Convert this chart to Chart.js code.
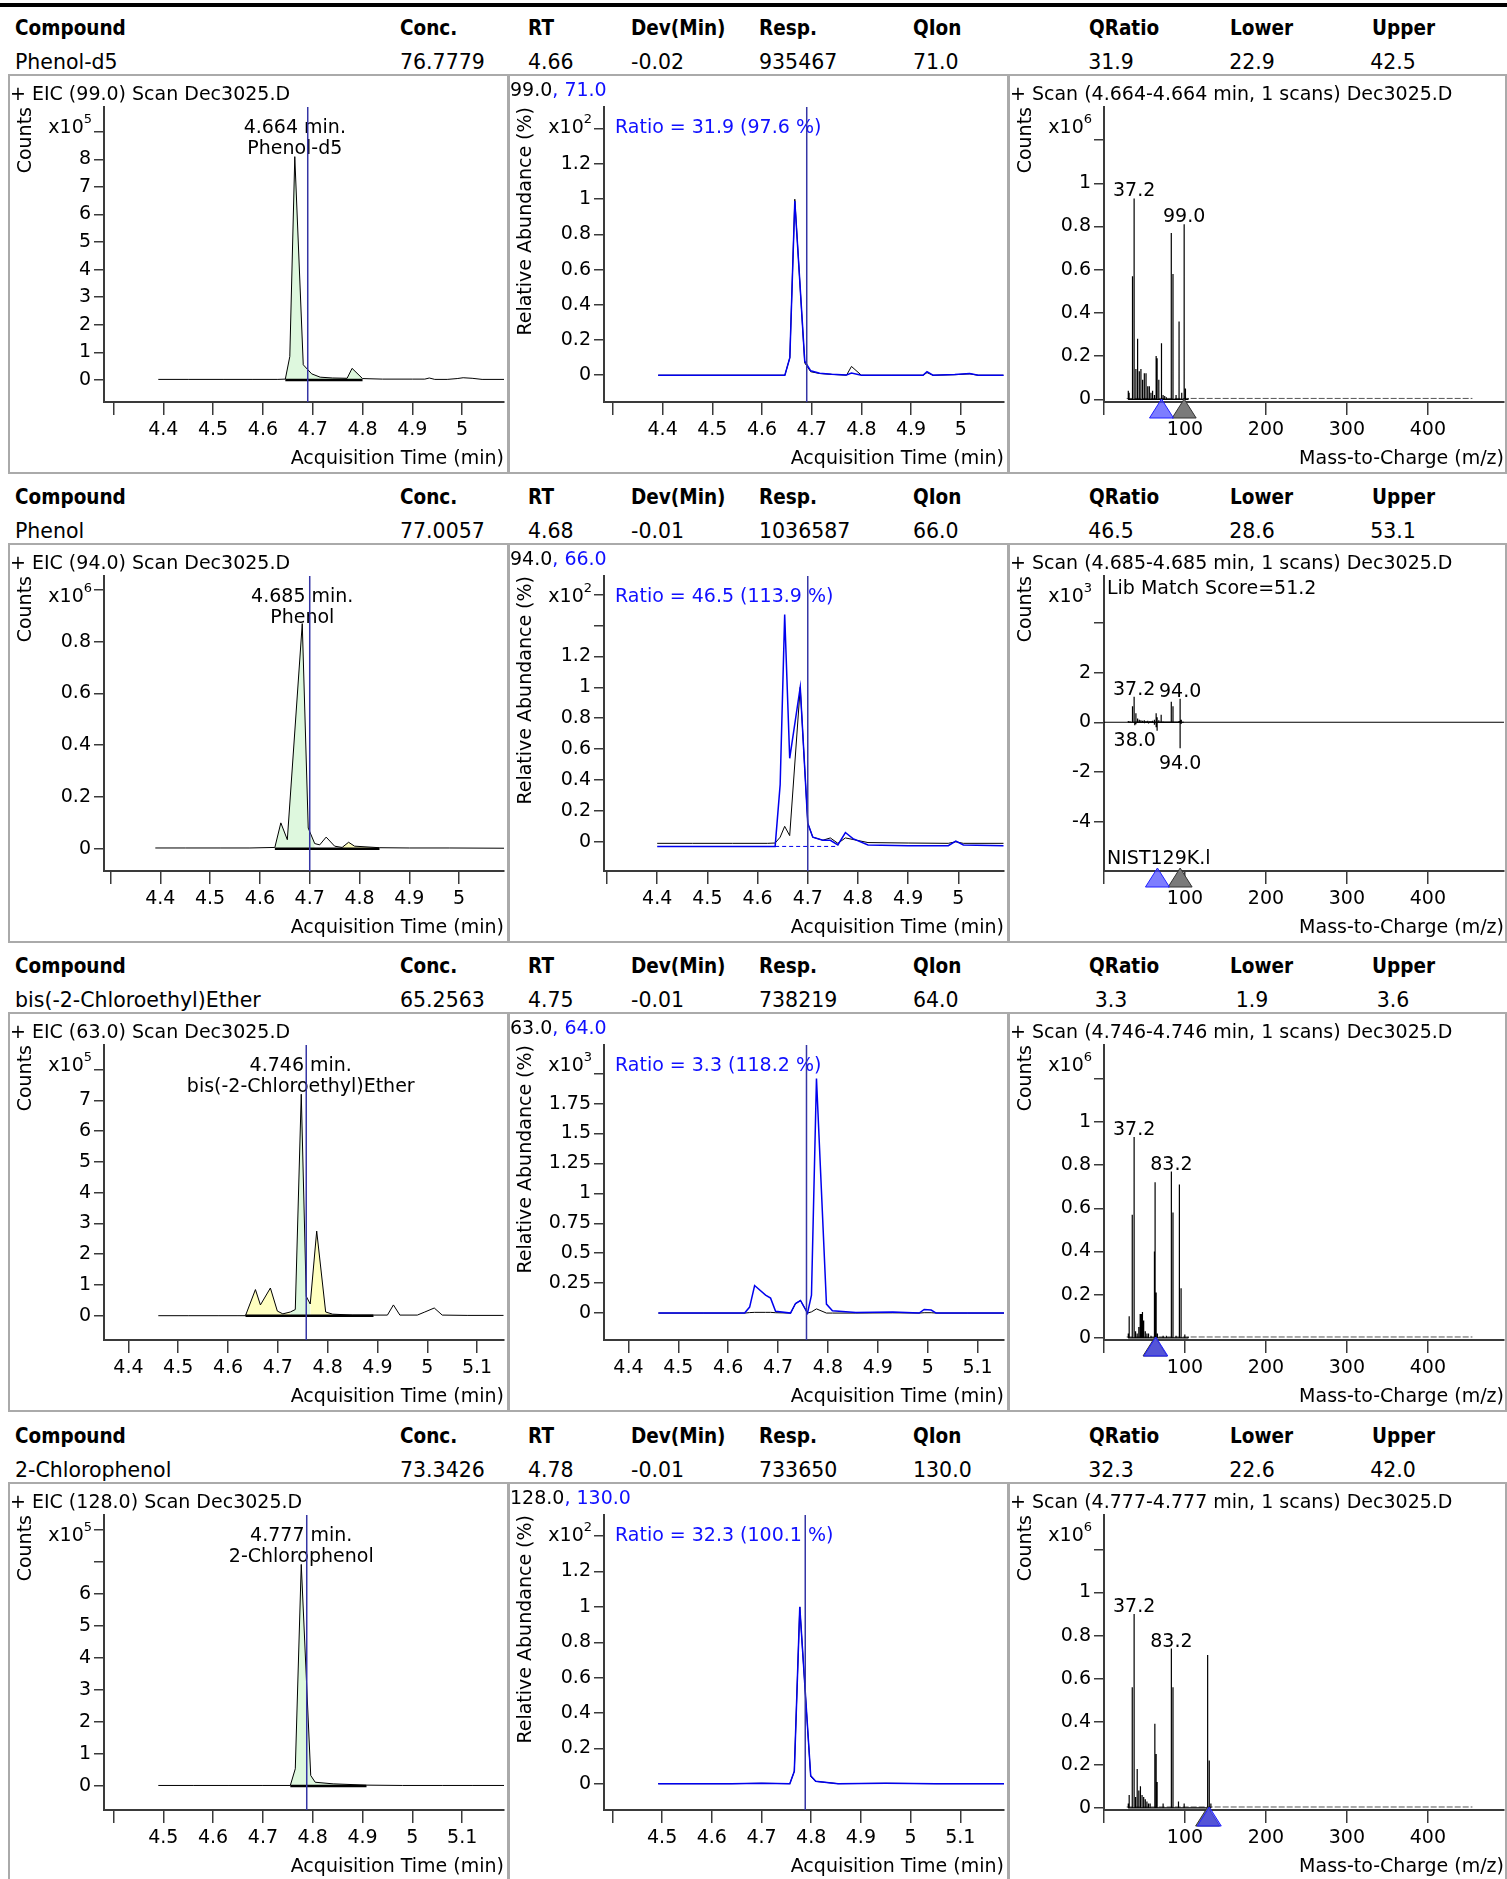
<!DOCTYPE html>
<html>
<head>
<meta charset="utf-8">
<script src="https://cdn.jsdelivr.net/npm/chart.js@4.4.1/dist/chart.umd.min.js"></script>
<style>
body { margin: 0; width: 1507px; height: 1879px; overflow: hidden; background: #fff; position: relative; font-family: 'DejaVu Sans', sans-serif; color: #000; }
.topline { position: absolute; left: 0; top: 3px; width: 1507px; height: 4px; background: #000; }
.h { position: absolute; font-size: 20.5px; font-weight: bold; transform: scaleX(0.9); transform-origin: left; white-space: nowrap; }
.v { position: absolute; font-size: 20.5px; white-space: nowrap; }
.panel { position: absolute; height: 400px; box-sizing: border-box; border: 2px solid #aaa; pointer-events: none; }
.pt { position: absolute; font-size: 19px; white-space: nowrap; }
canvas { position: absolute; }
</style>
</head>
<body>
<div class="topline"></div>
<script>
// ---- header table ----
const headNames = ['Compound', 'Conc.', 'RT', 'Dev(Min)', 'Resp.', 'QIon', 'QRatio', 'Lower', 'Upper'];
const compounds = ['Phenol-d5', 'Phenol', 'bis(-2-Chloroethyl)Ether', '2-Chlorophenol'];
const concs = ['76.7779', '77.0057', '65.2563', '73.3426'];
const rts = ['4.66', '4.68', '4.75', '4.78'];
const devs = ['-0.02', '-0.01', '-0.01', '-0.01'];
const resps = ['935467', '1036587', '738219', '733650'];
const qions = [71.0, 66.0, 64.0, 130.0];
const targetIons = [99.0, 94.0, 63.0, 128.0];
const qratios = ['31.9', '46.5', '3.3', '32.3'];
const lowers = ['22.9', '28.6', '1.9', '22.6'];
const uppers = ['42.5', '53.1', '3.6', '42.0'];
const ratioPct = ['97.6', '113.9', '118.2', '100.1'];
const peakRT = [4.664, 4.685, 4.746, 4.777];
const expectRT = [4.69, 4.70, 4.757, 4.788];
const scanNames = ['Dec3025.D', 'Dec3025.D', 'Dec3025.D', 'Dec3025.D'];

// ---- EIC traces (counts in units of the axis multiplier) ----
const eic1Time   = [4.39, 4.45, 4.52, 4.58, 4.63, 4.645, 4.654, 4.664, 4.681, 4.698, 4.715, 4.74, 4.769, 4.779, 4.80, 4.84, 4.90, 4.925, 4.934, 4.945, 4.97, 4.99, 5.002, 5.02, 5.04, 5.09];
const eic1Counts = [0.02, 0.02, 0.02, 0.02, 0.02, 0.03, 0.85, 8.1, 0.55, 0.22, 0.1, 0.07, 0.06, 0.42, 0.05, 0.03, 0.03, 0.03, 0.07, 0.02, 0.02, 0.05, 0.08, 0.06, 0.02, 0.02];
const eic1Segs = [[4.645, 4.80, 'main']];
const eic1Base = [4.645, 4.80];

const eic2Time   = [4.39, 4.45, 4.52, 4.58, 4.63, 4.642, 4.655, 4.685, 4.697, 4.71, 4.72, 4.733, 4.75, 4.765, 4.778, 4.79, 4.84, 4.90, 4.98, 5.09];
const eic2Counts = [0.003, 0.003, 0.003, 0.003, 0.005, 0.1, 0.035, 0.87, 0.08, 0.02, 0.015, 0.045, 0.01, 0.005, 0.025, 0.01, 0.004, 0.003, 0.003, 0.002];
const eic2Segs = [[4.63, 4.71, 'main'], [4.765, 4.84, 'other']];
const eic2Base = [4.63, 4.84];

const eic3Time   = [4.46, 4.52, 4.58, 4.62, 4.635, 4.655, 4.665, 4.685, 4.699, 4.71, 4.725, 4.735, 4.747, 4.757, 4.765, 4.778, 4.796, 4.81, 4.85, 4.892, 4.92, 4.932, 4.945, 4.98, 4.995, 5.014, 5.03, 5.08, 5.153];
const eic3Counts = [0.0, 0.0, 0.0, 0.0, 0.0, 0.85, 0.35, 0.9, 0.15, 0.06, 0.12, 0.2, 7.2, 0.63, 0.38, 2.75, 0.12, 0.05, 0.02, 0.02, 0.02, 0.35, 0.02, 0.02, 0.12, 0.25, 0.02, 0.01, 0.01];
const eic3Segs = [[4.635, 4.725, 'other'], [4.725, 4.765, 'main'], [4.765, 4.81, 'other']];
const eic3Base = [4.635, 4.892];

const eic4Time   = [4.49, 4.56, 4.63, 4.70, 4.755, 4.765, 4.777, 4.796, 4.805, 4.841, 4.908, 4.98, 5.06, 5.12, 5.184];
const eic4Counts = [0.02, 0.02, 0.02, 0.02, 0.02, 0.54, 6.91, 0.33, 0.12, 0.07, 0.03, 0.02, 0.02, 0.02, 0.02];
const eic4Segs = [[4.755, 4.908, 'main']];
const eic4Base = [4.755, 4.908];

// ---- qualifier ratio traces (relative abundance, x10^n) ----
const r1Time   = [4.391, 4.45, 4.52, 4.60, 4.646, 4.656, 4.666, 4.686, 4.698, 4.716, 4.74, 4.77, 4.78, 4.80, 4.86, 4.924, 4.932, 4.944, 4.988, 5.018, 5.035, 5.086];
const r1Target = [0, 0, 0, 0, 0, 0.1, 1.0, 0.07, 0.02, 0.01, 0.005, 0.0, 0.05, 0.0, 0.0, 0.0, 0.015, 0.0, 0.003, 0.008, 0.0, 0.0];
const r1Qual   = [0, 0, 0, 0, 0, 0.1, 0.99, 0.08, 0.025, 0.012, 0.006, 0.002, 0.012, 0.0, 0.0, 0.0, 0.02, 0.0, 0.004, 0.01, 0.0, 0.0];

const r2Time   = [4.40, 4.47, 4.55, 4.62, 4.635, 4.645, 4.654, 4.664, 4.685, 4.70, 4.71, 4.73, 4.745, 4.76, 4.775, 4.79, 4.82, 4.90, 4.98, 4.995, 5.01, 5.09];
const r2Target = [-0.01, -0.01, -0.01, -0.01, -0.008, 0.03, 0.1, 0.04, 1.0, 0.12, 0.03, 0.01, 0.025, -0.01, 0.025, 0.015, -0.005, -0.008, -0.01, 0.0, -0.01, -0.01];
const r2Qual   = [-0.03, -0.03, -0.03, -0.03, -0.03, 0.37, 1.47, 0.54, 1.0, 0.12, 0.03, 0.01, 0.01, -0.02, 0.06, 0.02, -0.02, -0.025, -0.025, 0.005, -0.02, -0.025];
const r2DashTime = [4.635, 4.76];
const r2DashLevel = -0.03;

const r3Time   = [4.46, 4.55, 4.633, 4.643, 4.653, 4.675, 4.685, 4.695, 4.725, 4.735, 4.745, 4.759, 4.767, 4.777, 4.797, 4.809, 4.856, 4.93, 4.983, 4.993, 5.007, 5.017, 5.08, 5.153];
const r3Target = [0, 0, 0, 0.004, 0.006, 0.006, 0.006, 0.003, 0, 0.08, 0.105, 0, 0.01, 0.035, 0, 0, 0, 0.002, 0, 0.003, 0.003, 0, 0, 0];
const r3Qual   = [0, 0, 0, 0.05, 0.23, 0.15, 0.125, 0.015, 0, 0.08, 0.105, 0, 0.15, 1.96, 0.075, 0.02, 0.005, 0.01, 0, 0.03, 0.025, 0, 0, 0];

const r4Time   = [4.492, 4.56, 4.64, 4.70, 4.757, 4.766, 4.777, 4.799, 4.809, 4.854, 4.95, 5.05, 5.188];
const r4Target = [0, 0, 0, 0.002, 0, 0.07, 1.0, 0.04, 0.013, 0, 0.002, 0, 0];
const r4Qual   = [0, 0, 0, 0.002, 0, 0.07, 1.0, 0.045, 0.013, 0, 0.002, 0, 0];

// ---- mass spectra (m/z, intensity in units of the axis multiplier) ----
const ms1Mz  = [30, 31, 35.2, 37.2, 39.4, 41.5, 43.6, 45.6, 47.7, 49.8, 51.9, 54, 56, 58, 60, 62.3, 64.4, 65.6, 67.7, 71, 73, 75, 77, 83.1, 85.2, 89, 92.7, 96, 99.0, 100.6, 104];
const ms1Int = [0.04, 0.03, 0.57, 0.93, 0.14, 0.28, 0.13, 0.14, 0.09, 0.12, 0.12, 0.06, 0.06, 0.03, 0.04, 0.02, 0.2, 0.19, 0.09, 0.26, 0.02, 0.015, 0.01, 0.77, 0.58, 0.02, 0.36, 0.03, 0.81, 0.05, 0.005];
const ms1Labels = [37.2, 99.0];

const ms2Mz  = [30, 32, 35.2, 37.2, 39.4, 41.5, 43.6, 45.6, 47.7, 49.8, 51.9, 54, 56, 58, 60, 62.3, 64.4, 65.6, 67.7, 70.6, 73, 77, 83.1, 85.2, 89, 92.7, 94.0, 95.5, 98];
const ms2Int = [0.05, 0.04, 0.64, 1.03, 0.36, 0.15, 0.1, 0.08, 0.06, 0.08, 0.05, 0.06, 0.04, 0.05, 0.06, 0.1, 0.36, 0.2, 0.08, 0.3, 0.03, 0.02, 0.83, 0.64, 0.02, 0.05, 0.95, 0.1, 0.02];
const lib2Mz  = [38.0, 39.4, 50, 55, 62.3, 64.4, 65.6, 94.0, 95.5];
const lib2Int = [-0.12, -0.08, -0.04, -0.05, -0.1, -0.2, -0.34, -1.05, -0.06];
const ms2Labels = [37.2, 94.0];
const lib2Labels = [38.0, 94.0];

const ms3Mz  = [30, 31.1, 34.9, 37.2, 39, 41, 43, 44.7, 46, 47.5, 49, 51, 53, 55, 58, 62.3, 63.1, 64.4, 66, 73, 77, 83.2, 85.2, 89, 93.1, 95.2, 99.8, 104];
const ms3Int = [0.02, 0.1, 0.57, 0.93, 0.03, 0.02, 0.05, 0.11, 0.11, 0.12, 0.08, 0.03, 0.02, 0.02, 0.01, 0.4, 0.72, 0.21, 0.02, 0.01, 0.01, 0.77, 0.58, 0.01, 0.71, 0.23, 0.015, 0.005];
const ms3Labels = [37.2, 83.2];

const ms4Mz  = [30, 31.1, 34.9, 37.2, 39, 41, 43, 45, 47, 49, 51, 53, 55, 57, 62.8, 64.4, 65.6, 73, 83.2, 85.2, 92, 99, 128, 130, 132];
const ms4Int = [0.02, 0.06, 0.56, 0.9, 0.05, 0.18, 0.08, 0.1, 0.06, 0.05, 0.04, 0.03, 0.02, 0.02, 0.39, 0.25, 0.12, 0.02, 0.74, 0.56, 0.03, 0.02, 0.71, 0.22, 0.02];
const ms4Labels = [37.2, 83.2];

const noiseMz = [28, 455];
const noiseLevel = [0.004, 0, 0.004, 0.004];

// ---- axis settings per section ----
const eicX = [[4.281, 5.084, [4.3]], [4.287, 5.09, [4.3]], [4.351, 5.154, []], [4.381, 5.184, [4.4]]];
const eicY = [[-0.8, 9.9, 1, [9]], [-0.086, 1.054, 0.2, [1]], [-0.79, 8.8, 1, [8]], [-0.745, 8.45, 1, [7, 8]]];
const ratX = [[4.282, 5.087, [4.3]], [4.294, 5.091, [4.3]], [4.351, 5.153, []], [4.383, 5.188, [4.4]]];
const ratY = [[-0.152, 1.524, 0.2, [1.4]], [-0.189, 1.72, 0.2, [1.4, 1.6]], [-0.225, 2.24, 0.25, [2]], [-0.149, 1.52, 0.2, [1.4]]];
const msX = [0, 494, [0]];
const msY = [[-0.0125, 1.353, 0.2, [1.2]], [-5.99, 5.89, 2, [4]], [-0.01, 1.356, 0.2, [1.2]], [-0.01, 1.36, 0.2, [1.2]]];
const eicExp = ['5', '6', '5', '5'];
const ratExp = ['2', '2', '3', '2'];
const msExp = ['6', '3', '6', '6'];

const FONT = "'DejaVu Sans', sans-serif";
const AXIS = '#3a3a3a';
const BLUE = '#1010ff';
const FILLS = {main: 'rgb(222, 248, 222)', other: 'rgb(255, 255, 192)'};

Chart.defaults.font.family = FONT;
Chart.defaults.font.size = 19;
Chart.defaults.color = '#000';

const pts = (xs, ys) => xs.map((x, i) => ({x: x, y: ys[i]}));
const sticks = (mz, h) => mz.flatMap((m, i) => [{x: m, y: 0}, {x: m, y: h[i]}, {x: m, y: 0}]);

function axis(min, max, step, hide, title, isX) {
  return {
    type: 'linear', min: min, max: max,
    border: {display: true, color: AXIS, width: 2},
    grid: {drawOnChartArea: false, drawTicks: true, tickLength: isX ? 13 : 10, color: AXIS, lineWidth: 1.5},
    ticks: {
      autoSkip: false, maxRotation: 0, minRotation: 0,
      padding: isX ? 4 : 3, color: '#000', font: {size: 19},
      callback: v => hide.some(h => Math.abs(h - v) < 1e-6) ? '' : String(Math.round(v * 1000) / 1000)
    },
    // ticks on whole multiples of the step inside the axis range
    afterBuildTicks: s => {
      const t = [];
      for (let n = Math.ceil(min / step - 1e-9); n * step <= max + 1e-9; n++) t.push({value: Math.round(n * step * 1e6) / 1e6});
      s.ticks = t;
    },
    title: {display: true, text: title, align: 'end', color: '#000', font: {size: 19}, padding: isX ? {top: 0, bottom: 4} : {top: 7, bottom: 0}},
    afterFit: s => { if (isX) s.height = 72; else s.width = 96; }
  };
}

function drawExp(ctx, right, cy, exp) {
  ctx.font = '19px ' + FONT;
  const w1 = ctx.measureText('x10').width;
  ctx.font = '13px ' + FONT;
  const w2 = ctx.measureText(exp).width;
  ctx.textAlign = 'left';
  ctx.textBaseline = 'middle';
  ctx.fillStyle = '#000';
  ctx.font = '19px ' + FONT;
  ctx.fillText('x10', right - w1 - w2, cy + 1);
  ctx.font = '13px ' + FONT;
  ctx.fillText(exp, right - w2, cy - 7);
}

function triangle(ctx, x, y, fill, stroke) {
  ctx.beginPath();
  ctx.moveTo(x, y - 3);
  ctx.lineTo(x - 12, y + 16);
  ctx.lineTo(x + 12, y + 16);
  ctx.closePath();
  ctx.fillStyle = fill;
  ctx.fill();
  ctx.strokeStyle = stroke;
  ctx.lineWidth = 1;
  ctx.stroke();
}

function annPlugin(a) {
  return {
    id: 'ann',
    afterDraw(chart) {
      const ctx = chart.ctx, area = chart.chartArea;
      const xs = chart.scales.x, ys = chart.scales.y;
      ctx.save();
      drawExp(ctx, area.left - 12, area.top + 20, a.exp);
      ctx.font = '19px ' + FONT;
      ctx.textBaseline = 'middle';
      if (a.peak) {
        const px = xs.getPixelForValue(a.peak[0]);
        ctx.textAlign = 'center';
        ctx.fillStyle = '#000';
        ctx.fillText(a.peak[0].toFixed(3) + ' min.', px, area.top + 21);
        ctx.fillText(a.peak[1], px, area.top + 42);
      }
      if (a.ratio) {
        ctx.textAlign = 'left';
        ctx.fillStyle = BLUE;
        ctx.fillText(a.ratio, area.left + 11, area.top + 21);
      }
      if (a.zeroLine) {
        const y0 = ys.getPixelForValue(0);
        ctx.strokeStyle = '#000';
        ctx.lineWidth = 1.2;
        ctx.beginPath();
        ctx.moveTo(area.left, y0);
        ctx.lineTo(area.right, y0);
        ctx.stroke();
      }
      if (a.labels) {
        ctx.fillStyle = '#000';
        ctx.textAlign = 'center';
        a.labels.forEach(l => {
          const i = l.mz.indexOf(l.at);
          const x = xs.getPixelForValue(l.at), y = ys.getPixelForValue(l.h[i]);
          if (l.h[i] >= 0) { ctx.textBaseline = 'alphabetic'; ctx.fillText(l.at.toFixed(1), x, y - 2); }
          else { ctx.textBaseline = 'top'; ctx.fillText(l.at.toFixed(1), x, y + 6); }
        });
      }
      if (a.lib) {
        ctx.fillStyle = '#000';
        ctx.textAlign = 'left';
        ctx.textBaseline = 'middle';
        ctx.fillText('Lib Match Score=' + a.lib[0], area.left + 3, area.top + 13);
        ctx.fillText(a.lib[1], area.left + 3, area.bottom - 12);
      }
      if (a.ions) {
        const yb = area.bottom;
        triangle(ctx, xs.getPixelForValue(a.ions[0]), yb, '#7a7a7a', '#333');
        triangle(ctx, xs.getPixelForValue(a.ions[1]), yb, 'rgba(70, 70, 255, 0.7)', '#2020ff');
      }
      if (a.rtLine != null) {
        const x = xs.getPixelForValue(a.rtLine);
        ctx.strokeStyle = '#3535a5';
        ctx.lineWidth = 1.5;
        ctx.beginPath();
        ctx.moveTo(x, area.top);
        ctx.lineTo(x, area.bottom);
        ctx.stroke();
      }
      ctx.restore();
    }
  };
}

function makeChart(left, top, w, datasets, xAxis, yAxis, ann) {
  const c = document.createElement('canvas');
  c.width = w;
  c.height = 400;
  c.style.left = left + 'px';
  c.style.top = top + 'px';
  document.body.appendChild(c);
  new Chart(c, {
    type: 'line',
    data: {datasets: datasets},
    options: {
      responsive: false, animation: false, events: [],
      layout: {autoPadding: false, padding: {top: 33, right: w - 496, left: 0, bottom: 0}},
      plugins: {legend: {display: false}, tooltip: {enabled: false}},
      elements: {point: {radius: 0}, line: {tension: 0, borderWidth: 1}},
      scales: {x: xAxis, y: yAxis}
    },
    plugins: [annPlugin(ann)]
  });
}

function addText(cls, text, left, top, extra) {
  const d = document.createElement('div');
  d.className = cls;
  d.style.left = left + 'px';
  d.style.top = top + 'px';
  if (extra) Object.assign(d.style, extra);
  d.innerHTML = text;
  document.body.appendChild(d);
  return d;
}

function eicSets(time, counts, segs, base) {
  const sets = segs.map(s => ({
    data: pts(time, counts).filter(p => p.x >= s[0] - 1e-9 && p.x <= s[1] + 1e-9),
    fill: 'origin', backgroundColor: FILLS[s[2]], borderWidth: 0, order: 3
  }));
  sets.push({data: pts(time, counts), borderColor: '#000', borderWidth: 1, fill: false, order: 1});
  sets.push({data: [{x: base[0], y: 0}, {x: base[1], y: 0}], borderColor: '#000', borderWidth: 2.5, fill: false, order: 0});
  return sets;
}

const eicData = [[eic1Time, eic1Counts, eic1Segs, eic1Base], [eic2Time, eic2Counts, eic2Segs, eic2Base],
                 [eic3Time, eic3Counts, eic3Segs, eic3Base], [eic4Time, eic4Counts, eic4Segs, eic4Base]];
const ratData = [[r1Time, r1Target, r1Qual], [r2Time, r2Target, r2Qual], [r3Time, r3Target, r3Qual], [r4Time, r4Target, r4Qual]];
const msData = [[ms1Mz, ms1Int, ms1Labels], [ms2Mz, ms2Int, ms2Labels], [ms3Mz, ms3Int, ms3Labels], [ms4Mz, ms4Int, ms4Labels]];

const colX = [15, 400, 528, 631, 759, 913, 1089, 1230, 1372];
const centerX = {6: 1111, 7: 1252, 8: 1393};

for (let k = 0; k < 4; k++) {
  const T = Math.round(74 + 469.2 * k);
  // header table
  const vals = [compounds[k], concs[k], rts[k], devs[k], resps[k], qions[k].toFixed(1), qratios[k], lowers[k], uppers[k]];
  headNames.forEach((h, i) => addText('h', h, colX[i], T - 58));
  vals.forEach((v, i) => {
    if (centerX[i]) addText('v', v, centerX[i], T - 24, {transform: 'translateX(-50%)'});
    else addText('v', v, colX[i], T - 24);
  });

  // EIC panel
  const e = eicData[k];
  makeChart(8, T, 500, eicSets(e[0], e[1], e[2], e[3]),
    axis(eicX[k][0], eicX[k][1], 0.1, eicX[k][2], 'Acquisition Time (min)', true),
    axis(eicY[k][0], eicY[k][1], eicY[k][2], eicY[k][3], 'Counts', false),
    {exp: eicExp[k], peak: [peakRT[k], compounds[k]], rtLine: expectRT[k]});
  addText('pt', '+ EIC (' + targetIons[k].toFixed(1) + ') Scan ' + scanNames[k], 10, T + 8);

  // qualifier ratio panel
  const r = ratData[k];
  const rSets = [
    {data: pts(r[0], r[2]), borderColor: '#0000ee', borderWidth: 1.5, fill: false, order: 0},
    {data: pts(r[0], r[1]), borderColor: '#000', borderWidth: 1, fill: false, order: 1}
  ];
  if (k === 1) rSets.push({data: pts(r2DashTime, r2DashTime.map(() => r2DashLevel)), borderColor: '#0000ee', borderWidth: 1, borderDash: [4, 3], fill: false, order: 2});
  makeChart(508, T, 500, rSets,
    axis(ratX[k][0], ratX[k][1], 0.1, ratX[k][2], 'Acquisition Time (min)', true),
    axis(ratY[k][0], ratY[k][1], ratY[k][2], ratY[k][3], 'Relative Abundance (%)', false),
    {exp: ratExp[k], ratio: 'Ratio = ' + qratios[k] + ' (' + ratioPct[k] + ' %)', rtLine: expectRT[k]});
  addText('pt', targetIons[k].toFixed(1) + '<span style="color:' + BLUE + '">, ' + qions[k].toFixed(1) + '</span>', 510, T + 4);

  // spectrum panel
  const m = msData[k];
  const mSets = [{data: sticks(m[0], m[1]), borderColor: '#000', borderWidth: 1.2, borderJoinStyle: 'bevel', fill: false, order: 0}];
  if (noiseLevel[k] > 0) mSets.push({data: pts(noiseMz, noiseMz.map(() => noiseLevel[k])), borderColor: '#555', borderWidth: 1, borderDash: [6, 2], fill: false, order: 1});
  const labels = [{mz: m[0], h: m[1], at: m[2][0]}, {mz: m[0], h: m[1], at: m[2][1]}];
  const mAnn = {exp: msExp[k], labels: labels, ions: [targetIons[k], qions[k]]};
  if (k === 1) {
    mSets.push({data: sticks(lib2Mz, lib2Int), borderColor: '#000', borderWidth: 1.2, borderJoinStyle: 'bevel', fill: false, order: 0});
    lib2Labels.forEach(v => labels.push({mz: lib2Mz, h: lib2Int, at: v}));
    mAnn.zeroLine = true;
    mAnn.lib = ['51.2', 'NIST129K.l'];
  }
  makeChart(1008, T, 498, mSets,
    axis(msX[0], msX[1], 100, msX[2], 'Mass-to-Charge (m/z)', true),
    axis(msY[k][0], msY[k][1], msY[k][2], msY[k][3], 'Counts', false),
    mAnn);
  const st = peakRT[k].toFixed(3);
  addText('pt', '+ Scan (' + st + '-' + st + ' min, 1 scans) ' + scanNames[k], 1010, T + 8);

  // panel frames
  addText('panel', '', 8, T, {width: '501px'});
  addText('panel', '', 508, T, {width: '501px'});
  addText('panel', '', 1008, T, {width: '499px'});
}
</script>
</body>
</html>
